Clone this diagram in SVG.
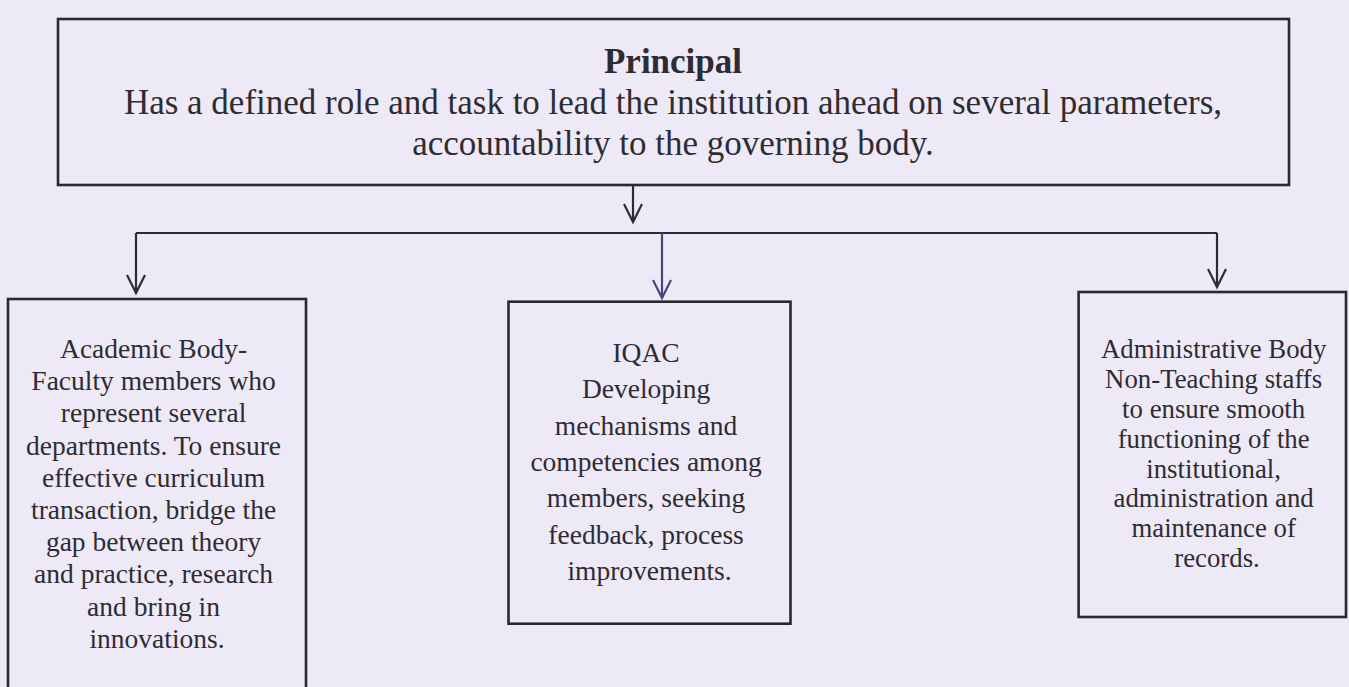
<svg xmlns="http://www.w3.org/2000/svg" width="1349" height="687" viewBox="0 0 1349 687">
<style>
.box{fill:none;stroke:#2a282e;stroke-width:2.6}
.t{font-family:'Liberation Serif','Times New Roman',serif;fill:#2e2c33;text-anchor:middle}
.big{font-size:35px}
.sm{font-size:27.5px}
.sm2{font-size:26.8px}
.conn{fill:none;stroke:#2e2c33;stroke-width:2.2}
.conn2{fill:none;stroke:#4e4380;stroke-width:2.2}
</style>
<defs>
<marker id="v" markerUnits="userSpaceOnUse" orient="auto" overflow="visible" markerWidth="20" markerHeight="20" refX="0" refY="0"><path d="M-18,-9 L0,0 L-18,9" fill="none" stroke="#2e2c33" stroke-width="2.2"/></marker>
<marker id="vp" markerUnits="userSpaceOnUse" orient="auto" overflow="visible" markerWidth="20" markerHeight="20" refX="0" refY="0"><path d="M-18,-9 L0,0 L-18,9" fill="none" stroke="#4e4380" stroke-width="2.2"/></marker>
</defs>
<rect width="1349" height="687" fill="#eee9f6"/>
<g id="connectors">
<path class="conn" d="M633,185 V222" marker-end="url(#v)"/>
<path class="conn" d="M136,233 H1217"/>
<path class="conn" d="M136,233 V293" marker-end="url(#v)"/>
<path class="conn" d="M1217,233 V287" marker-end="url(#v)"/>
<path class="conn2" d="M662,233 V298" marker-end="url(#vp)"/>
</g>
<g id="principal">
<rect class="box" x="58" y="19" width="1231" height="166"/>
<text class="t big" x="673" y="73" font-weight="bold">Principal</text>
<text class="t big" x="673" y="114">Has a defined role and task to lead the institution ahead on several parameters,</text>
<text class="t big" x="673" y="155">accountability to the governing body.</text>
</g>
<g id="academic">
<rect class="box" x="8" y="299" width="298" height="410"/>
<text class="t sm" x="157">
<tspan x="157" y="358">Academic Body-</tspan>
<tspan x="157" y="390.2">Faculty members who</tspan>
<tspan x="157" y="422.4">represent several</tspan>
<tspan x="157" y="454.6">departments. To ensure</tspan>
<tspan x="157" y="486.8">effective curriculum</tspan>
<tspan x="157" y="519">transaction, bridge the</tspan>
<tspan x="157" y="551.2">gap between theory</tspan>
<tspan x="157" y="583.4">and practice, research</tspan>
<tspan x="157" y="615.6">and bring in</tspan>
<tspan x="157" y="647.8">innovations.</tspan>
</text>
</g>
<g id="iqac">
<rect class="box" x="508.5" y="301.7" width="282" height="322"/>
<text class="t sm" x="649.5">
<tspan x="649.5" y="362">IQAC</tspan>
<tspan x="649.5" y="398.3">Developing</tspan>
<tspan x="649.5" y="434.6">mechanisms and</tspan>
<tspan x="649.5" y="470.9">competencies among</tspan>
<tspan x="649.5" y="507.2">members, seeking</tspan>
<tspan x="649.5" y="543.5">feedback, process</tspan>
<tspan x="649.5" y="579.8">improvements.</tspan>
</text>
</g>
<g id="administrative">
<rect class="box" x="1078.6" y="292" width="267.4" height="325"/>
<text class="t sm2" x="1217">
<tspan x="1217" y="358.1">Administrative Body</tspan>
<tspan x="1217" y="388">Non-Teaching staffs</tspan>
<tspan x="1217" y="417.8">to ensure smooth</tspan>
<tspan x="1217" y="447.7">functioning of the</tspan>
<tspan x="1217" y="477.5">institutional,</tspan>
<tspan x="1217" y="507.4">administration and</tspan>
<tspan x="1217" y="537.2">maintenance of</tspan>
<tspan x="1217" y="567.1">records.</tspan>
</text>
</g>
</svg>
